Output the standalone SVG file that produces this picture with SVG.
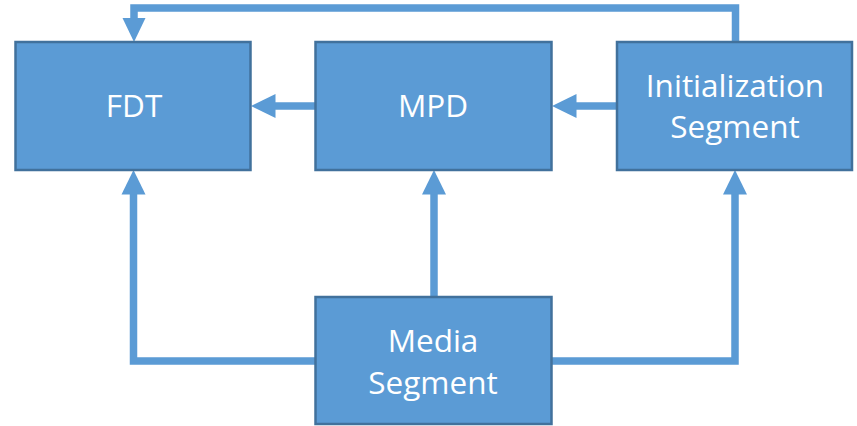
<svg xmlns="http://www.w3.org/2000/svg" width="857" height="426" viewBox="0 0 857 426">
<defs>
<style>
.box{fill:#5B9BD5;stroke:#41719C;stroke-width:2.5}
.lbl{fill:#FFFFFF;font-family:"Open Sans","Noto Sans",sans-serif;font-size:31.5px;text-anchor:middle}
.con{fill:none;stroke:#5B9BD5;stroke-width:7.5;stroke-linejoin:miter}
</style>
<marker id="ah" viewBox="0 0 24 24" refX="0" refY="12" markerWidth="24" markerHeight="24" markerUnits="userSpaceOnUse" orient="auto" overflow="visible">
<path d="M-0.5,0 L24,12 L-0.5,24 Z" fill="#5B9BD5"/>
</marker>
</defs>
<rect width="857" height="426" fill="#FFFFFF"/>
<g id="connectors">
<path class="con" d="M735.5,42 V8 H134 V18" />
<path d="M122.5,18 L145.5,18 L134,42 Z" fill="#5B9BD5"/>
<path class="con" d="M315,106 H275" marker-end="url(#ah)"/>
<path class="con" d="M617,106 H576" marker-end="url(#ah)"/>
<path class="con" d="M315,361 H133.5 V194" marker-end="url(#ah)"/>
<path class="con" d="M434,297 V194" marker-end="url(#ah)"/>
<path class="con" d="M552,361 H735 V194" marker-end="url(#ah)"/>
</g>
<g id="fdt">
<rect class="box" x="15.5" y="42" width="235" height="128"/>
<text class="lbl" x="134" y="117">FDT</text>
</g>
<g id="mpd">
<rect class="box" x="315.5" y="42" width="236" height="128"/>
<text class="lbl" x="433" y="117">MPD</text>
</g>
<g id="init">
<rect class="box" x="617" y="42" width="235" height="128"/>
<text class="lbl" x="735" y="97">Initialization</text>
<text class="lbl" x="735" y="138">Segment</text>
</g>
<g id="media">
<rect class="box" x="315.5" y="297" width="236" height="127"/>
<text class="lbl" x="433" y="352">Media</text>
<text class="lbl" x="433" y="394">Segment</text>
</g>
</svg>
